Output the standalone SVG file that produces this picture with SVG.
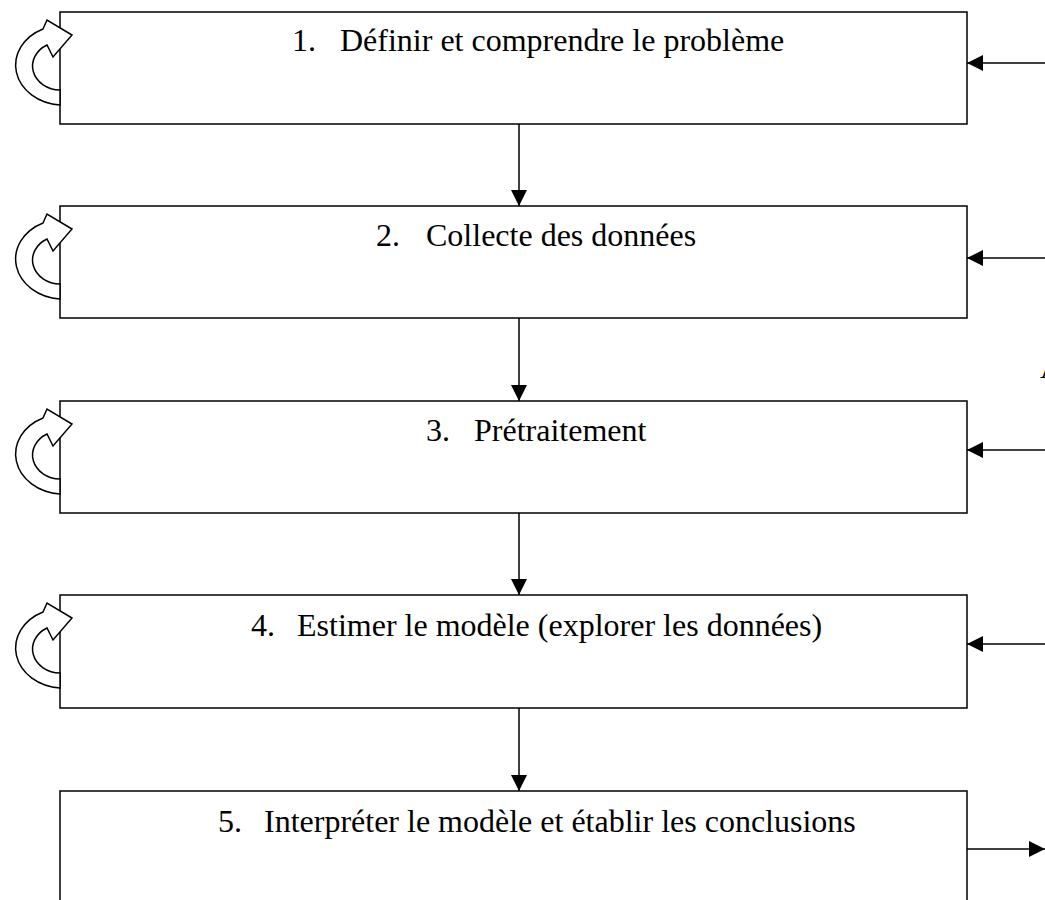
<svg xmlns="http://www.w3.org/2000/svg" width="1045" height="900" viewBox="0 0 1045 900">
<style>
.box{fill:#fff;stroke:#000;stroke-width:1.5}
.loop{fill:#fff;stroke:#000;stroke-width:1.5;stroke-linejoin:miter}
.conn{stroke:#000;stroke-width:1.5;fill:none;marker-end:url(#ah)}
.t{font-family:"Liberation Serif","Times New Roman",serif;font-size:32px;fill:#000}
</style>
<defs>
<marker id="ah" markerUnits="userSpaceOnUse" markerWidth="16" markerHeight="16" refX="16" refY="8" orient="auto">
<path d="M0,0 L16,8 L0,16 z" fill="#000"/>
</marker>
<path id="loopShape" class="loop" d="M60,105 A48,40 0 0,1 43,29 L47,20 L72,35 L53,57 L47,45 A28,24 0 0,0 60,90 Z"/>
</defs>

<g id="node1">
<rect class="box" x="60" y="12" width="907" height="112"/>
<use href="#loopShape"/>
<text class="t" x="292" y="51">1.</text>
<text class="t" x="340" y="51">Définir et comprendre le problème</text>
</g>
<g id="node2">
<rect class="box" x="60" y="206" width="907" height="112"/>
<use href="#loopShape" transform="translate(0,194)"/>
<text class="t" x="376" y="246">2.</text>
<text class="t" x="426" y="246">Collecte des données</text>
</g>
<g id="node3">
<rect class="box" x="60" y="401" width="907" height="112"/>
<use href="#loopShape" transform="translate(0,389)"/>
<text class="t" x="426" y="441">3.</text>
<text class="t" x="474" y="441">Prétraitement</text>
</g>
<g id="node4">
<rect class="box" x="60" y="595" width="907" height="113"/>
<use href="#loopShape" transform="translate(0,583)"/>
<text class="t" x="251" y="636">4.</text>
<text class="t" x="297" y="636">Estimer le modèle (explorer les données)</text>
</g>
<g id="node5">
<rect class="box" x="60" y="791" width="907" height="130"/>
<text class="t" x="218" y="832">5.</text>
<text class="t" x="264" y="832">Interpréter le modèle et établir les conclusions</text>
</g>
<text class="t" x="1040" y="378">A</text>

<g id="connectors">
<line class="conn" x1="519" y1="124" x2="519" y2="206"/>
<line class="conn" x1="519" y1="318" x2="519" y2="401"/>
<line class="conn" x1="519" y1="513" x2="519" y2="595"/>
<line class="conn" x1="519" y1="708" x2="519" y2="791"/>
<line class="conn" x1="1045" y1="63" x2="967" y2="63"/>
<line class="conn" x1="1045" y1="258" x2="967" y2="258"/>
<line class="conn" x1="1045" y1="450" x2="967" y2="450"/>
<line class="conn" x1="1045" y1="644" x2="967" y2="644"/>
<line class="conn" x1="967" y1="849" x2="1045" y2="849"/>
</g>
</svg>
